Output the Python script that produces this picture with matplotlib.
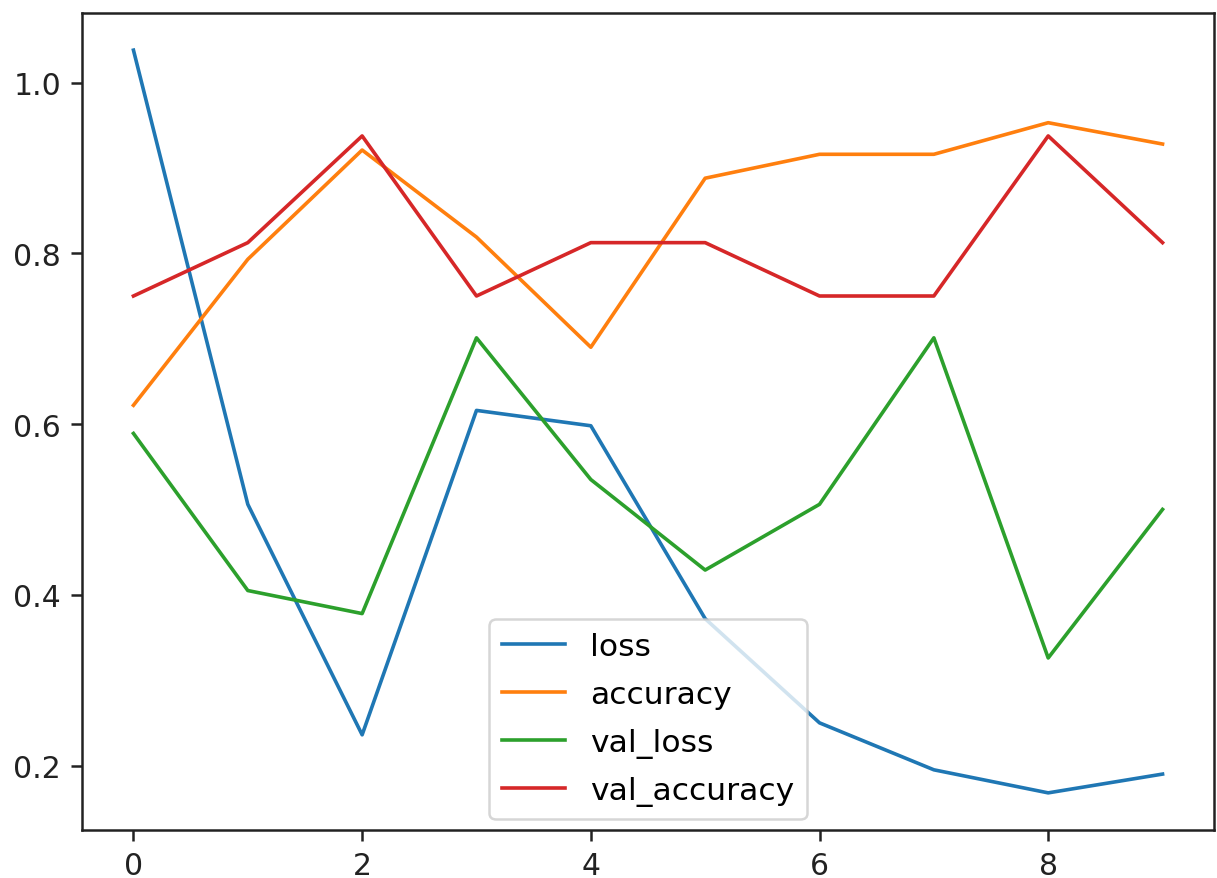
import matplotlib
matplotlib.use("Agg")
import matplotlib.pyplot as plt

epochs = list(range(10))
loss = [1.038, 0.506, 0.236, 0.616, 0.598, 0.372, 0.250, 0.195, 0.168, 0.190]
accuracy = [0.622, 0.793, 0.921, 0.819, 0.690, 0.888, 0.916, 0.916, 0.953, 0.928]
val_loss = [0.589, 0.405, 0.378, 0.701, 0.535, 0.429, 0.506, 0.701, 0.326, 0.500]
val_accuracy = [0.750, 0.8125, 0.9375, 0.750, 0.8125, 0.8125, 0.750, 0.750, 0.9375, 0.8125]

series = [("loss", loss), ("accuracy", accuracy), ("val_loss", val_loss), ("val_accuracy", val_accuracy)]

fs = 21.5
fig = plt.figure(figsize=(12.17, 8.79), dpi=100)
ax = fig.add_axes([82/1217, 1-831/879, (1214-82)/1217, (831-14)/879])
for name, vals in series:
    ax.plot(epochs, vals, label=name, linewidth=2.6)

ax.set_xticks([0, 2, 4, 6, 8])
ax.set_yticks([0.2, 0.4, 0.6, 0.8, 1.0])
ax.tick_params(labelsize=fs, length=8, width=1.8, pad=7, colors="#222222")
for sp in ax.spines.values():
    sp.set_linewidth(1.8)
    sp.set_color("#222222")
leg = ax.legend(loc="lower center", fontsize=22.6, borderaxespad=0.35, labelspacing=0.6)
leg.get_frame().set_linewidth(1.8)
fig.savefig("out.png", dpi=100)
